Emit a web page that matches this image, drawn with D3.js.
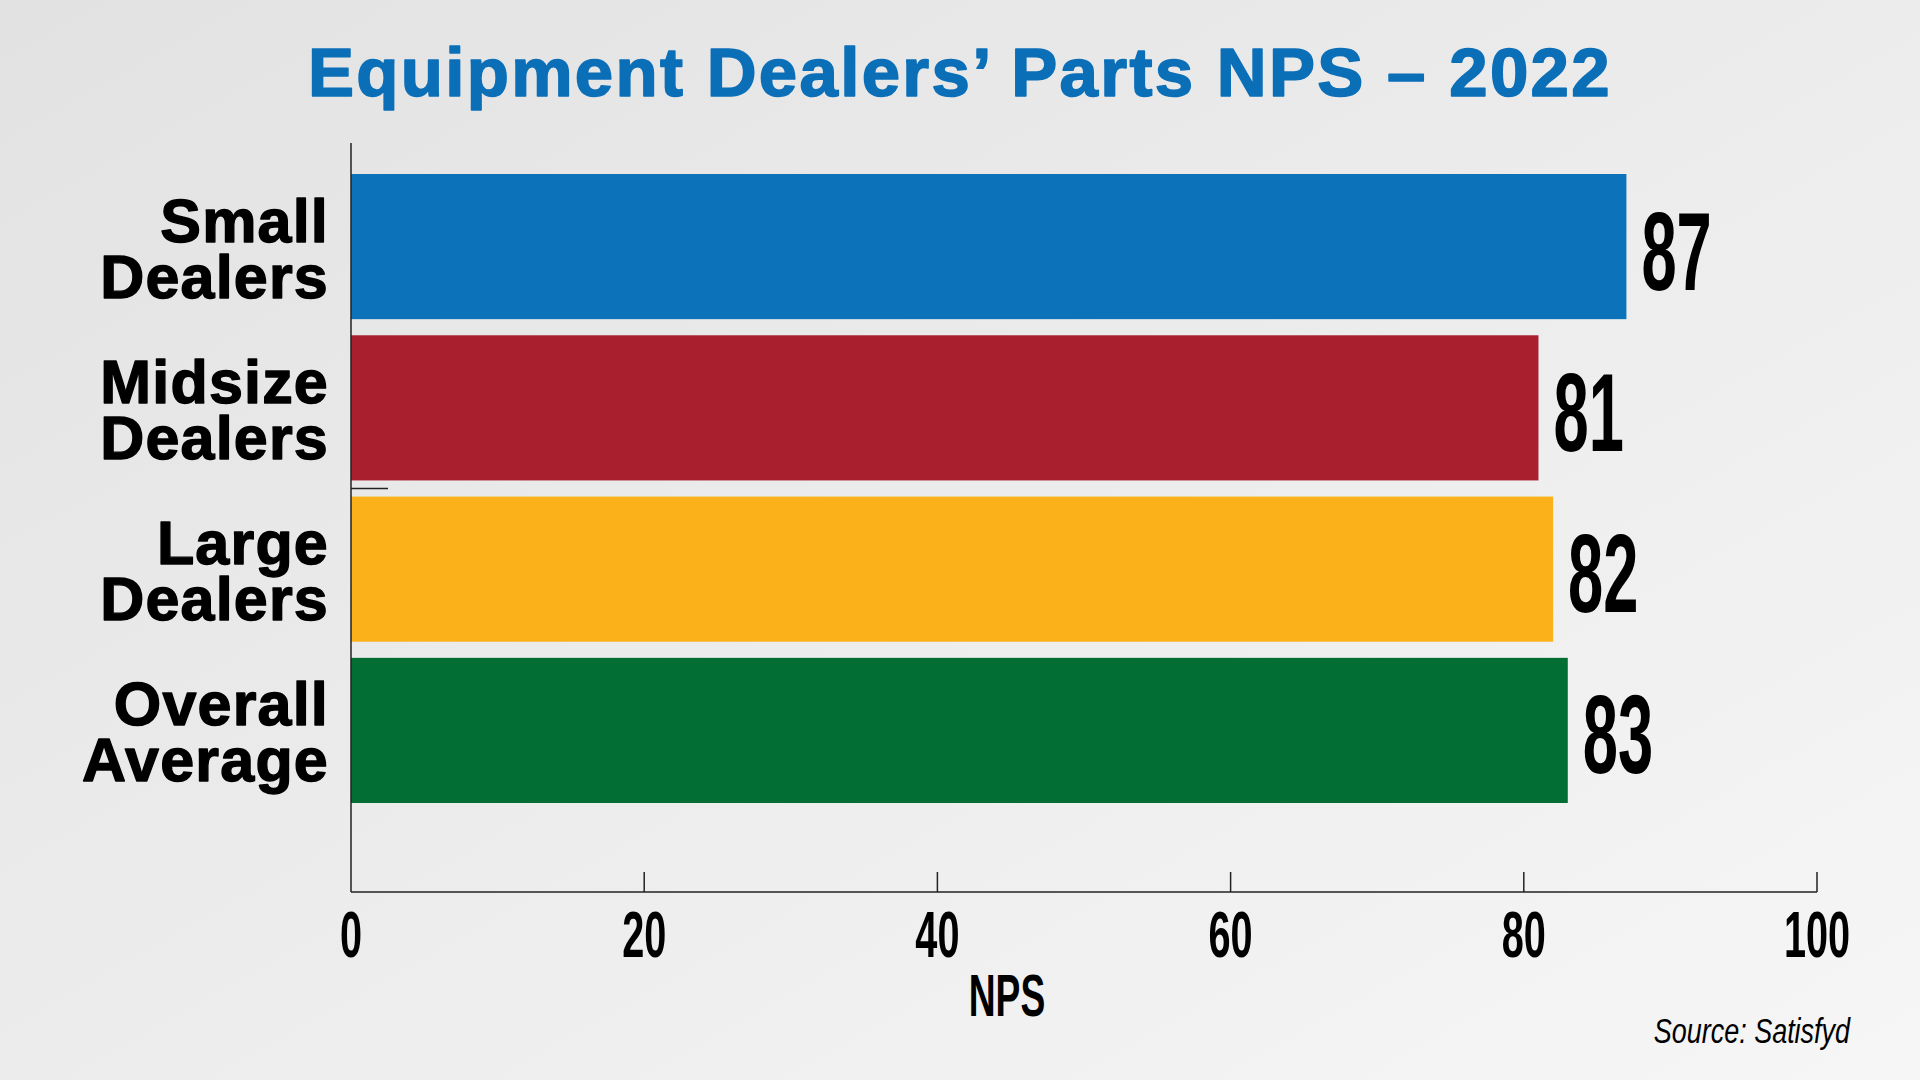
<!DOCTYPE html>
<html>
<head>
<meta charset="utf-8">
<script src="https://cdn.jsdelivr.net/npm/d3@7"></script>
<style>
html,body{margin:0;padding:0;overflow:hidden;}
svg{display:block;}
</style>
</head>
<body>
<script>
const categories = [["Small","Dealers"],["Midsize","Dealers"],["Large","Dealers"],["Overall","Average"]];
const values = [87, 81, 82, 83];
const barColors = ["#0C72BA", "#AA1F2E", "#FBB11A", "#036E33"];
const tickValues = [0, 20, 40, 60, 80, 100];
const titleText = "Equipment Dealers’ Parts NPS – 2022";
const axisTitle = "NPS";
const sourceText = "Source: Satisfyd";

const W = 1920, H = 1080;
const svg = d3.select("body").append("svg").attr("width", W).attr("height", H);

const defs = svg.append("defs");
const grad = defs.append("linearGradient").attr("id","bg")
  .attr("x1","0%").attr("y1","0%").attr("x2","100%").attr("y2","100%");
grad.append("stop").attr("offset","0%").attr("stop-color","#E2E2E2");
grad.append("stop").attr("offset","100%").attr("stop-color","#F6F6F6");
svg.append("rect").attr("width",W).attr("height",H).attr("fill","url(#bg)");

const keys = categories.map(c => c.join(" "));
const x = d3.scaleLinear().domain([0,100]).range([351,1817]);
const y = d3.scaleBand().domain(keys).range([174,803]).paddingInner(0.1).paddingOuter(0);

// title
svg.append("text").attr("x",960).attr("y",96).attr("text-anchor","middle")
  .attr("font-family","'Liberation Sans', Arial, sans-serif").attr("font-weight","bold")
  .attr("font-size",69).attr("letter-spacing","2.3px").attr("fill","#0B6FB8")
  .attr("stroke","#0B6FB8").attr("stroke-width",1.6).attr("stroke-linejoin","round")
  .text(titleText);

// bars
svg.selectAll("rect.bar").data(values).join("rect").attr("class","bar")
  .attr("x", x(0)).attr("y",(d,i)=>y(keys[i]))
  .attr("width", d => x(d)-x(0)).attr("height", y.bandwidth())
  .attr("fill",(d,i)=>barColors[i]);

// condensed text helper
function condText(px, py, sx, txt, size, anchor, opts={}) {
  const g = svg.append("g").attr("transform",`translate(${px},${py}) scale(${sx},1)`);
  g.append("text").attr("x",0).attr("y",0).attr("text-anchor",anchor)
    .attr("font-family","'Liberation Sans', Arial, sans-serif")
    .attr("font-weight", opts.weight || "bold")
    .attr("font-style", opts.style || "normal")
    .attr("font-size", size).attr("fill","#000").text(txt);
  return g;
}

// value labels
values.forEach((v,i) => {
  const cy = y(keys[i]) + y.bandwidth()/2;
  condText(x(v)+15, cy+43, 0.57, String(v), 111, "start");
});

// category labels
categories.forEach((c,i) => {
  const cy = y(keys[i]) + y.bandwidth()/2;
  c.forEach((line, j) => {
    svg.append("text").attr("text-anchor","end")
      .attr("x",329).attr("y", cy - 5 + j*56)
      .attr("font-family","'Liberation Sans', Arial, sans-serif").attr("font-weight","bold")
      .attr("font-size",61).attr("letter-spacing","1.2px").attr("fill","#000")
      .attr("stroke","#000").attr("stroke-width",1.4).attr("stroke-linejoin","round")
      .text(line);
  });
});

// axes lines
const axisColor = "#222";
svg.append("line").attr("x1",x(0)).attr("x2",x(0)).attr("y1",143).attr("y2",892)
  .attr("stroke",axisColor).attr("stroke-width",1.5);
svg.append("line").attr("x1",x(0)).attr("x2",x(100)).attr("y1",892).attr("y2",892)
  .attr("stroke",axisColor).attr("stroke-width",1.5);
svg.selectAll("line.tick").data(tickValues.filter(d=>d>0)).join("line").attr("class","tick")
  .attr("x1",d=>x(d)).attr("x2",d=>x(d)).attr("y1",872).attr("y2",892)
  .attr("stroke",axisColor).attr("stroke-width",1.5);

// small stray mark between midsize and large
const midGap = y(keys[1]) + y.bandwidth() + (y.step()-y.bandwidth())/2;
svg.append("line").attr("x1",x(0)).attr("x2",x(0)+37).attr("y1",midGap).attr("y2",midGap)
  .attr("stroke",axisColor).attr("stroke-width",1.5);

// tick labels
tickValues.forEach(t => condText(x(t), 957, 0.62, String(t), 64, "middle"));

// axis title
condText(1007, 1016, 0.62, axisTitle, 60, "middle");

// source
condText(1850, 1043, 0.77, sourceText, 35, "end", {weight:"normal", style:"italic"});
</script>
</body>
</html>
